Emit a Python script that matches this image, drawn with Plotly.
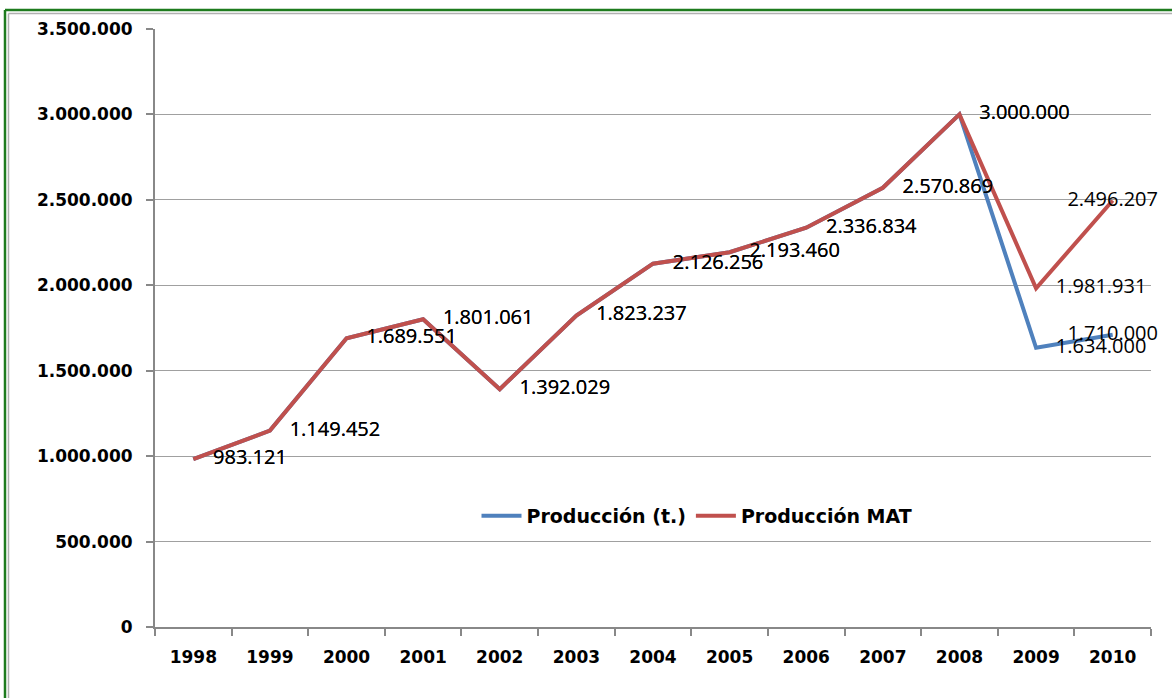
import plotly.graph_objects as go

years = ["1998", "1999", "2000", "2001", "2002", "2003", "2004",
         "2005", "2006", "2007", "2008", "2009", "2010"]
produccion = [983121, 1149452, 1689551, 1801061, 1392029, 1823237, 2126256,
              2193460, 2336834, 2570869, 3000000, 1634000, 1710000]
produccion_mat = [983121, 1149452, 1689551, 1801061, 1392029, 1823237, 2126256,
                  2193460, 2336834, 2570869, 3000000, 1981931, 2496207]
y_ticks = [0, 500000, 1000000, 1500000, 2000000, 2500000, 3000000, 3500000]

def fmt(v):
    return f"{v:,}".replace(",", ".")

W, H = 1172, 698
ML, MR, MT, MB = 155, 21, 29, 71
PW, PH = W - ML - MR, H - MT - MB

def px(x):
    return (x - ML) / PW

def py(y):
    return (H - MB - y) / PH

label_font = dict(family="Open Sans", size=20, color="#000000")
n = len(years)
# last labels are pushed back inside the chart area (as the original does)
positions = ["middle right"] * (n - 1) + ["middle center"]

fig = go.Figure()
for name, series, color in (("Producción (t.)", produccion, "#4F81BD"),
                            ("Producción MAT", produccion_mat, "#C0504D")):
    fig.add_trace(go.Scatter(
        x=years, y=series, mode="lines+markers+text", name=name,
        line=dict(color=color, width=4),
        marker=dict(size=30, color="rgba(0,0,0,0)", line=dict(width=0)),
        text=[fmt(v) for v in series],
        textposition=positions, textfont=label_font,
        cliponaxis=False, hoverinfo="skip"))

axis_font = dict(family="DejaVu Sans", size=17, color="#000000", weight="bold")

fig.update_layout(
    width=W, height=H,
    margin=dict(l=ML, r=MR, t=MT, b=MB, pad=0),
    paper_bgcolor="white", plot_bgcolor="white",
    showlegend=True,
    legend=dict(orientation="h", x=px(697), y=py(516), xanchor="center", yanchor="middle",
                font=dict(family="DejaVu Sans", size=19, color="#000000", weight="bold"),
                bgcolor="rgba(0,0,0,0)", itemwidth=40, tracegroupgap=0),
    xaxis=dict(type="category", tickson="boundaries", ticks="outside", ticklen=7,
               tickcolor="#888888", tickwidth=2,
               showline=True, linecolor="#888888", linewidth=2,
               showgrid=False, zeroline=False,
               tickfont=axis_font, ticklabelstandoff=14,
               range=[-0.5, n - 0.5], fixedrange=True),
    yaxis=dict(range=[0, 3500000], tickvals=y_ticks, ticktext=[fmt(v) for v in y_ticks],
               ticks="outside", ticklen=7, tickcolor="#888888", tickwidth=2,
               showline=True, linecolor="#888888", linewidth=2,
               showgrid=True, gridcolor="#a0a0a0", gridwidth=1, zeroline=False,
               tickfont=axis_font, ticklabelstandoff=10,
               fixedrange=True),
    shapes=[
        dict(type="line", xref="paper", yref="paper", x0=px(5), x1=px(5), y0=py(10), y1=py(H + 5),
             line=dict(color="#1E7B1E", width=2.5)),
        dict(type="line", xref="paper", yref="paper", x0=px(5), x1=px(W + 5), y0=py(10), y1=py(10),
             line=dict(color="#1E7B1E", width=2.5)),
        dict(type="line", xref="paper", yref="paper", x0=px(8.5), x1=px(8.5), y0=py(13.5), y1=py(H + 5),
             line=dict(color="#b0b0b0", width=1.5)),
        dict(type="line", xref="paper", yref="paper", x0=px(8.5), x1=px(W + 5), y0=py(13.5), y1=py(13.5),
             line=dict(color="#b0b0b0", width=1.5)),
    ],
)

fig.write_html("out.html", config={"displayModeBar": False},
               post_script="document.body.style.margin='0px';document.body.style.overflow='hidden';")
